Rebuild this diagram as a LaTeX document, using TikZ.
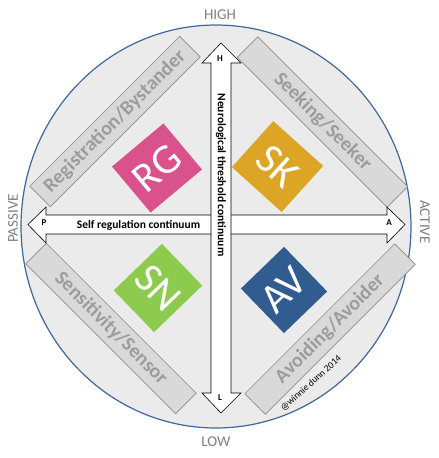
\documentclass[tikz,border=0pt]{standalone}
\usepackage{fontspec}
\setmainfont{Carlito}
\usetikzlibrary{positioning}
\definecolor{ringblue}{HTML}{3F6898}
\definecolor{discgray}{HTML}{EBEBEB}
\definecolor{bandfill}{HTML}{D9D9D9}
\definecolor{bandline}{HTML}{8C8C8C}
\definecolor{bandtext}{HTML}{9C9C9C}
\definecolor{axisgray}{HTML}{7F7F7F}
\definecolor{rgpink}{HTML}{D9528B}
\definecolor{skgold}{HTML}{DCA526}
\definecolor{sngreen}{HTML}{8DCB4F}
\definecolor{avblue}{HTML}{315C8F}
\begin{document}
\begin{tikzpicture}[
        x=1pt, y=-1pt,
        band/.style={draw=bandline, fill=bandfill, text=bandtext, line width=0.7pt,
            font=\fontsize{20}{20}\selectfont\bfseries, minimum width=212pt,
            minimum height=29pt, inner sep=0pt},
        quad/.style={text=white, font=\fontsize{42}{42}\selectfont, inner sep=0pt},
        pole/.style={text=axisgray, font=\fontsize{15}{15}\selectfont},
        tip/.style={font=\fontsize{9}{9}\selectfont\bfseries, inner sep=0pt},
        axislabel/.style={font=\fontsize{11.5}{12}\selectfont\bfseries, inner sep=0pt},
        blockarrow/.style={draw=black, fill=white, line width=0.6pt, line join=miter},
    ]
        \useasboundingbox[fill=white] (0,0) rectangle (439,458);

        % disc
        \draw[ringblue, fill=discgray, line width=1.2pt] (216,226.5)
            ellipse [x radius=195pt, y radius=201.5pt];

        % quadrant banners
        \node[band, rotate=45] (regband) at (115,121.5) {Registration/Bystander};
        \node[band, rotate=-45] (seekband) at (322.5,122) {Seeking/Seeker};
        \node[band, rotate=-45] (sensband) at (111,328.5) {Sensitivity/Sensor};
        \node[band, rotate=45] (avoidband) at (330,329) {Avoiding/Avoider};

        % quadrant squares
        \node[quad, fill=rgpink, rotate=40, minimum width=67pt, minimum height=60pt] (rg) at (157,168) {RG};
        \node[quad, fill=skgold, rotate=-42, minimum width=67pt, minimum height=62pt] (sk) at (277.5,166.5) {SK};
        \node[quad, fill=sngreen, rotate=-46, minimum width=58pt, minimum height=67pt] (sn) at (158,288) {SN};
        \node[quad, fill=avblue, rotate=44, minimum width=60pt, minimum height=62pt] (av) at (284,290) {AV};

        % self regulation arrow
        \draw[blockarrow] (28,224.5) -- (46,207) -- (46,215) -- (387,215) -- (387,207)
            -- (405,224.5) -- (387,243) -- (387,234) -- (46,234) -- (46,243) -- cycle;
        % threshold arrow
        \draw[blockarrow] (221,43) -- (241,63) -- (231,63) -- (231,393) -- (241,393)
            -- (221,413) -- (202,393) -- (211,393) -- (211,63) -- (202,63) -- cycle;

        \node[axislabel] (selfreg) at (138.5,225) {Self regulation continuum};
        \node[axislabel, rotate=-90] (neuro) at (221,175) {Neurological threshold continuum};
        \node[tip] (hend) at (220,59) {H};
        \node[tip] (lend) at (220,398) {L};
        \node[tip] (pend) at (44,223) {P};
        \node[tip] (aend) at (389,223) {A};

        % pole labels
        \node[pole] (high) at (220,15) {HIGH};
        \node[pole] (low) at (216,442) {LOW};
        \node[pole, rotate=90] (passive) at (13,218.5) {PASSIVE};
        \node[pole, rotate=-90] (active) at (425,222) {ACTIVE};

        \node[font=\fontsize{9.5}{10}\selectfont, rotate=42] (credit) at (311,383.5) {@winnie dunn 2014};
    \end{tikzpicture}
\end{document}
